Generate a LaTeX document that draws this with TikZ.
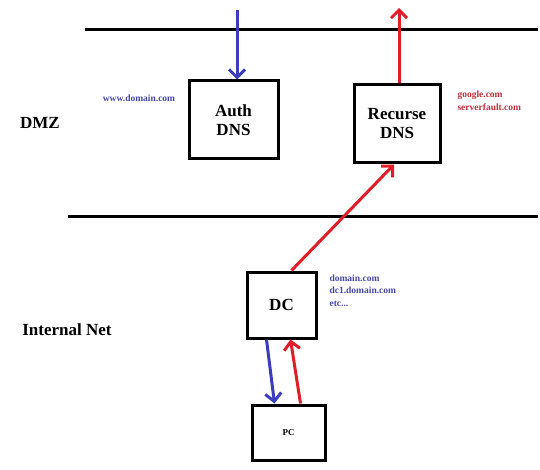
\documentclass[tikz,border=0pt]{standalone}
\usepackage{fontspec}
\setmainfont{Liberation Serif}
\usetikzlibrary{arrows.meta}
\definecolor{lanblue}{RGB}{60,60,190}
\definecolor{wanred}{RGB}{225,30,40}
\definecolor{txtblue}{RGB}{70,70,170}
\definecolor{txtred}{RGB}{195,45,55}

\begin{document}
\begin{tikzpicture}[x=1pt,y=-1pt,
    server/.style={draw,line width=3pt,inner sep=0pt,align=center},
    bigtxt/.style={font=\fontsize{17}{19}\selectfont\bfseries},
    note/.style={font=\fontsize{9.5}{12.5}\selectfont\bfseries,align=left},
    flow/.style={line width=3pt,-{Straight Barb[length=8pt,width=16pt]}}]
      \useasboundingbox (0,0) rectangle (540,470);
      % zone borders
      \coordinate (topw) at (85,30);
      \coordinate (tope) at (538,30);
      \coordinate (botw) at (68,217);
      \coordinate (bote) at (538,217);
      \draw[line width=3pt] (topw) -- (tope);
      \draw[line width=3pt] (botw) -- (bote);
      \node[bigtxt] (dmz) at (40,123) {DMZ};
      \node[bigtxt] (inet) at (67,330) {Internal Net};
      % servers
      \node[server,bigtxt,minimum width=89,minimum height=78] (auth) at (233.5,120) {Auth\\DNS};
      \node[server,bigtxt,minimum width=86,minimum height=78] (recurse) at (397,124) {Recurse\\DNS};
      \node[server,bigtxt,minimum width=69,minimum height=66] (dc) at (281.5,305) {DC};
      \node[server,font=\fontsize{9}{11}\selectfont\bfseries,minimum width=73,minimum height=55] (pc) at (288.5,432.5) {PC};
      % zone names
      \node[note,text=txtblue] (authzone) at (139,98) {www.domain.com};
      \node[note,text=txtred,anchor=west] (fwd) at (454,101) {google.com\\serverfault.com};
      \node[note,text=txtblue,anchor=north west] (dczone) at (326,271) {domain.com\\dc1.domain.com\\etc...};
      % queries
      \coordinate (inq) at (237,10);
      \coordinate (outq) at (399,8);
      \draw[flow,lanblue] (inq) -- (inq |- auth.north);
      \draw[flow,wanred] (recurse.north -| outq) -- (outq);
      \draw[flow,wanred] ([xshift=10]dc.north) -- ([xshift=-3]recurse.south);
      \draw[flow,lanblue] ([xshift=-15]dc.south) -- ([xshift=-14]pc.north);
      \draw[flow,wanred] ([xshift=12]pc.north) -- ([xshift=9]dc.south);
    \end{tikzpicture}
\end{document}
